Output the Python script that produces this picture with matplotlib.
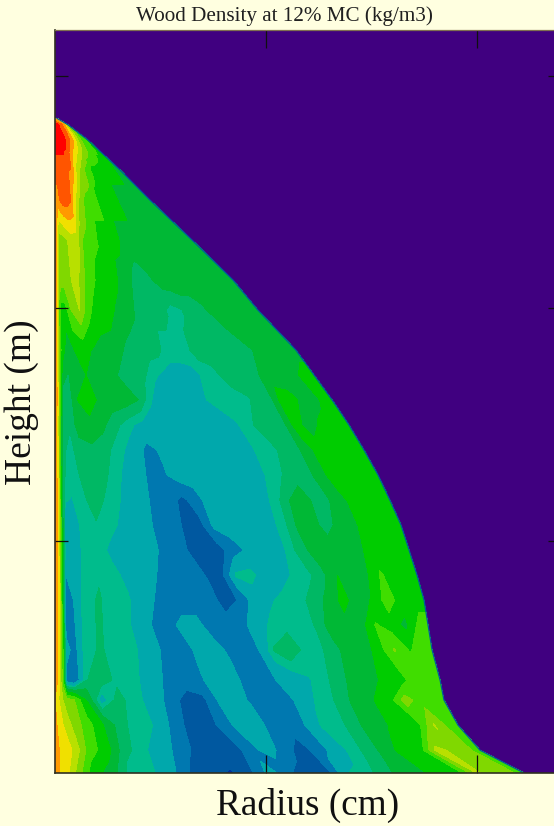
import numpy as np
import matplotlib
matplotlib.use("Agg")
import matplotlib.pyplot as plt

# stem profile, bottom to top
height = [0, 0.49, 1.03, 1.57, 2.00, 2.65, 3.185, 3.72, 4.261, 4.80, 5.337, 5.87, 6.413, 6.95,
          7.489, 8.03, 8.565, 9.10, 9.96, 10.61, 11.47, 12.33, 12.98, 13.62, 13.95, 14.09]
outer_radius = [44.46, 40.29, 38.2, 36.87, 36.5, 35.74, 35.36, 34.98, 34.31, 33.56, 32.80, 31.75, 30.62,
                29.29, 27.87, 26.26, 24.55, 22.84, 19.24, 16.87, 12.99, 9.0, 6.16, 3.13, 1.23, 0.19]
# fraction of the stem radius at which density classes were read
rel_radius = [0, .01, .02, .03, .05, .08, .12, .16, .20, .25, .30, .34, .38, .42, .46,
              .50, .54, .58, .62, .66, .70, .74, .78, .82, .86, .90, .94, .98, 1.0]

# density class per height (rows) and relative radius (columns)
density = [
    [12, 11.5, 11, 10.5, 9, 7, 6, 4.7, 4.7, 3.8, 2, 1.6, 1.4, 2.4, 4, 2.6, 2, 2, 4.4, 4.7, 5.2, 6, 6.3, 7, 7, 9.6, 9, 8.5, 8],
    [12, 11.5, 11, 11, 10, 8, 7, 5.2, 4.7, 4, 3, 2, 2, 2, 3, 4, 3, 2, 3, 4, 4.7, 5.2, 6, 7, 7, 10, 9, 8.5, 8],
    [12, 11, 10.5, 10, 9, 8, 6.5, 5.2, 4.7, 4.4, 3, 2, 2, 3, 4, 4, 3, 3, 3.5, 4.5, 4.7, 5.2, 6, 6.4, 7, 7, 9.6, 8, 8],
    [11.5, 10.5, 9.5, 9, 8.5, 6.5, 4, 5.2, 4.7, 4.2, 3, 2, 2.2, 3.6, 4, 3.4, 3, 3, 3.6, 4.4, 4.7, 5.3, 6, 6.5, 7, 9, 8, 8, 8],
    [12.5, 11, 8, 3, 2.5, 4.9, 5.3, 4.8, 4.6, 4.2, 3, 3, 3.4, 4, 4, 3, 3, 3.6, 4, 4.4, 4.8, 5.3, 6, 6, 7, 7, 8.5, 8, 8],
    [13, 11, 8, 4, 3, 4.8, 5, 4.8, 4.6, 4.2, 3, 3, 3.8, 4, 3.3, 3, 3.5, 5, 5.5, 4.8, 4.8, 5.3, 6, 6, 7, 8.6, 7.4, 8, 8],
    [13, 11, 7.5, 3, 3.3, 4.8, 5, 4.7, 4.5, 3.6, 3, 3.8, 3.8, 3, 3, 3.2, 4, 4.6, 4.7, 4.7, 5, 6, 6.2, 6, 7.6, 7, 6.2, 8, 8],
    [13, 11, 7, 3, 3.5, 4.8, 5, 4.7, 4.5, 3.8, 3, 3, 3, 3, 2, 2.6, 4, 4.3, 4.7, 4.7, 5.2, 5.8, 6.8, 6, 6.6, 8, 7, 7, 7],
    [13, 11, 7, 3.5, 3.6, 4.7, 4.9, 4.6, 4.3, 4, 3.2, 3, 3, 2.4, 2.2, 4.6, 4.7, 4, 4, 4.6, 4.8, 5.4, 6.5, 6, 6.3, 7.6, 7, 7, 7],
    [13, 11, 7, 4, 3.5, 4.7, 4.7, 4.3, 4, 4, 3.4, 3, 2.4, 2, 2, 3, 3.6, 4, 4, 4.6, 5.4, 6, 6, 6, 6.3, 7, 7, 7, 7],
    [13, 11, 6.5, 4, 3.6, 4.8, 4.9, 4.6, 4.3, 4, 3.2, 3, 2.2, 2.2, 3.8, 4, 4, 4, 4.2, 4.7, 5.7, 6, 5.3, 5.8, 6.2, 7, 7, 7, 7],
    [13, 11, 6, 4.5, 4.4, 4.8, 5.2, 4.8, 4.4, 4, 3.2, 3, 2.2, 3, 4, 4, 4, 4, 4.2, 4.7, 5.6, 6, 5.3, 5.6, 6.3, 7, 7, 7, 7],
    [13, 10.5, 6, 5, 4.7, 5, 5.2, 5, 4.5, 4, 3.2, 3.4, 4, 4, 4, 4, 4, 4, 4, 4.6, 4.9, 5.3, 5.3, 6, 7, 7, 7, 7, 7],
    [13, 10.5, 6, 5, 4.8, 5.2, 5.4, 5.2, 4.7, 4.2, 3.2, 3.6, 4, 4, 4, 4, 4, 4, 4, 4.7, 4.7, 5.2, 5.3, 6.2, 7, 7, 7, 7, 7],
    [13, 10.5, 6.5, 5, 5, 6, 6.2, 5.8, 5.2, 4.6, 4.2, 4, 4, 4, 4, 4, 4, 4, 4.4, 4.8, 5.2, 5.2, 5.4, 7, 6, 6.6, 7, 7, 7],
    [13, 11, 7, 5, 5, 6.5, 7, 6.3, 6, 6, 5.6, 4.6, 4, 4, 4, 4, 4.4, 4.7, 4.7, 4.7, 4.9, 5.2, 5.4, 7, 6.8, 6, 6.2, 7, 7],
    [13, 11, 7.5, 6, 5.5, 6.2, 6.5, 6.3, 6, 5.5, 5.2, 5.1, 4.6, 4.3, 4.2, 4.2, 4.3, 4.6, 4.8, 5.2, 5.2, 5.2, 5.5, 6, 6, 6, 6.5, 7, 7],
    [13, 11, 8, 7, 6, 6.5, 6.8, 6.4, 6.2, 6, 5.4, 5.2, 5.2, 5.2, 4.7, 4.7, 4.7, 5.2, 5.2, 5.2, 5.2, 5.2, 5.2, 5.6, 6, 6, 6, 6, 6],
    [13, 11, 8, 7, 7, 8.5, 9.5, 8, 7, 7, 6.4, 6, 5.7, 5.2, 5.2, 5.2, 5, 4.7, 4.9, 5.2, 5.2, 5.5, 6, 6, 6, 6, 6, 6, 6],
    [13, 11, 9.5, 9, 9, 9.3, 10, 8.6, 8, 7, 7, 6.7, 6, 5.7, 5.2, 5.2, 5.5, 6, 6, 6, 6, 6, 6, 6, 6, 6, 6, 6, 6],
    [13, 12, 10, 9, 9, 9.3, 10, 10, 8.5, 8, 7.6, 7, 7, 7, 6.6, 6, 6, 6, 6, 6, 6, 6, 6, 6, 6, 6, 6, 6, 6],
    [12, 12, 12, 12, 12.5, 13, 13, 12.6, 11, 9.5, 8.5, 8, 8, 8, 7, 7, 7, 7, 7, 6.5, 6, 6, 6, 6, 6, 6, 6, 6, 6],
    [13, 13, 13, 13, 13, 13, 13, 13, 12.6, 12.4, 11, 10, 9.5, 9, 8.3, 8, 7.6, 7, 7, 7, 7, 7, 7, 7, 7, 6.6, 6.3, 6, 6],
    [14, 14, 14, 14, 14, 14, 14, 14, 14, 14, 13.6, 13.4, 13, 12.6, 12.4, 12, 11.6, 11, 10.6, 10, 9.5, 9, 8.6, 8, 8, 8, 7.5, 7, 7],
    [14, 14, 14, 14, 14, 14, 14, 14, 14, 13.6, 13.4, 13.2, 13, 13, 13, 13, 12.6, 12.4, 12, 12, 11.6, 11, 10.6, 10, 9.5, 9, 8.5, 8, 7.5],
    [11] * 29,
]

class_edges = [.5, 1.5, 2.5, 3.5, 4.45, 4.95, 5.6, 6.5, 7.5, 8.5, 9.5, 10.5, 11.5, 12.5, 13.5, 14.5]
class_colors = ['#0030A0', '#0058A0', '#0078B0', '#00A8AC', '#00BC8C', '#00B864', '#00B835', '#00CC00',
                '#40DD00', '#80D800', '#B8E000', '#F0E000', '#FF9900', '#FF5500', '#FF0000']
x_ticks = [20, 40]
y_ticks = [5, 10, 15]

BG = '#FFFFE0'
PURPLE = '#400080'
serif = ['Liberation Serif', 'DejaVu Serif']

fig = plt.figure(figsize=(5.54, 8.26), dpi=100, facecolor=BG)
ax = fig.add_axes([55 / 554, (826 - 773) / 826, (561 - 55) / 554, (773 - 30) / 826], facecolor=PURPLE)

R, H = np.meshgrid(rel_radius, height)
X = R * np.array(outer_radius)[:, None]
ax.contourf(X, H, np.array(density), levels=class_edges, colors=class_colors)
ax.plot(outer_radius, height, color='#0058A0', lw=0.9)

ax.set_xlim(0, 47.96)
ax.set_ylim(0, 15.99)
ax.set_xticks(x_ticks)
ax.set_yticks(y_ticks)
ax.tick_params(axis='x', direction='in', length=13, width=0.9, top=True, labelbottom=False, color='#101010')
ax.tick_params(axis='y', direction='in', length=9.4, width=0.9, right=True, labelleft=False, color='#101010')
for s in ['left', 'bottom']:
    ax.spines[s].set_color('#303020')
    ax.spines[s].set_linewidth(1.2)
ax.spines['top'].set_color('#807050')
ax.spines['top'].set_linewidth(0.9)
ax.spines['right'].set_visible(False)

fig.text(284 / 554, 1 - 16 / 826, 'Wood Density at 12% MC (kg/m3)', family=serif, fontsize=15.2,
         ha='center', va='center', color='#202020')
fig.text(308 / 554, 1 - 805 / 826, 'Radius (cm)', family=serif, fontsize=26.8,
         ha='center', va='center', color='#101010')
fig.text(22 / 554, 1 - 402 / 826, 'Height (m)', family=serif, fontsize=27, rotation=90,
         ha='center', va='center', color='#101010')

fig.savefig('out.png', dpi=100, facecolor=BG)
